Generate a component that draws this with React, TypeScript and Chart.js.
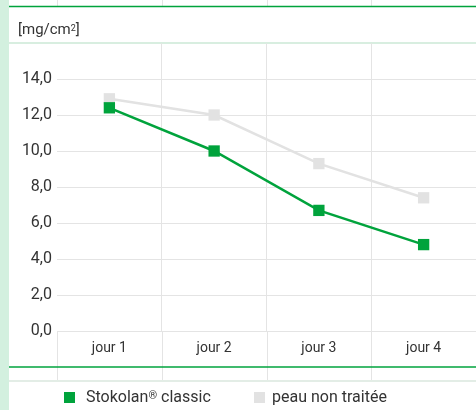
import React, { useEffect, useRef } from "react";
import { Chart, registerables } from "chart.js";

Chart.register(...registerables);

const categories = ["jour 1", "jour 2", "jour 3", "jour 4"];
const stokolanValues = [12.4, 10.0, 6.7, 4.8];
const untreatedValues = [12.9, 12.0, 9.3, 7.4];
const seriesNames = ["Stokolan® classic", "peau non traitée"];
const yTicks = [0, 2, 4, 6, 8, 10, 12, 14];

const GREEN = "#00a33c";
const GREY = "#e2e2e2";
const GRID = "#e4e4e4";
const TEXT = "#333333";
const FONT = "Roboto, 'DejaVu Sans', sans-serif";

const decorPlugin = {
  id: "decor",
  beforeDraw(chart: any) {
    const ctx = chart.ctx;
    const xs = chart.scales.x;
    const area = chart.chartArea;
    const n = xs.ticks.length;
    const px: number[] = [];
    for (let i = 0; i < n; i++) px.push(xs.getPixelForTick(i));
    const bounds: number[] = [xs.left];
    for (let i = 1; i < n; i++) bounds.push((px[i - 1] + px[i]) / 2);
    ctx.save();
    ctx.strokeStyle = GRID;
    ctx.lineWidth = 1;
    bounds.forEach((b) => {
      const x = Math.round(b) + 0.5;
      ctx.beginPath();
      ctx.moveTo(x, area.bottom);
      ctx.lineTo(x, 381);
      ctx.moveTo(x, 0);
      ctx.lineTo(x, 6);
      ctx.stroke();
    });
    const hline = (y: number, color: string, w: number) => {
      ctx.strokeStyle = color;
      ctx.lineWidth = w;
      ctx.beginPath();
      ctx.moveTo(9, y);
      ctx.lineTo(chart.width, y);
      ctx.stroke();
    };
    hline(6.5, GREEN, 1.5);
    hline(area.top, "#d8eee0", 2);
    hline(367, GREEN, 1.5);
    hline(381, "#e3ede6", 2);
    ctx.restore();
  },
};

export default function App() {
  const canvasRef = useRef<HTMLCanvasElement | null>(null);

  useEffect(() => {
    const canvas = canvasRef.current;
    if (!canvas) return;
    const chart = new Chart(canvas, {
      type: "line",
      data: {
        labels: categories,
        datasets: [
          {
            label: seriesNames[0],
            data: stokolanValues,
            borderColor: GREEN,
            backgroundColor: GREEN,
            borderWidth: 2.5,
            pointStyle: "rect",
            pointRadius: 8,
            pointBorderWidth: 0,
            pointBackgroundColor: GREEN,
            tension: 0,
          },
          {
            label: seriesNames[1],
            data: untreatedValues,
            borderColor: GREY,
            backgroundColor: GREY,
            borderWidth: 2.5,
            pointStyle: "rect",
            pointRadius: 8,
            pointBorderWidth: 0,
            pointBackgroundColor: GREY,
            tension: 0,
          },
        ],
      },
      options: {
        animation: false,
        responsive: false,
        maintainAspectRatio: false,
        layout: { autoPadding: false, padding: { left: 0, right: 0, top: 43, bottom: 0 } },
        plugins: {
          legend: { display: false },
          tooltip: { enabled: false },
        },
        scales: {
          x: {
            type: "category",
            offset: true,
            grid: {
              offset: true,
              drawTicks: false,
              color: (c: any) =>
                typeof c.index === "number" && c.index >= 1 && c.index < categories.length
                  ? GRID
                  : "rgba(0,0,0,0)",
            },
            border: { display: true, color: GRID },
            ticks: {
              color: TEXT,
              font: { family: FONT, size: 14 },
              padding: 9,
              maxRotation: 0,
            },
            afterFit: (scale: any) => {
              scale.height = 79;
              scale.paddingLeft = 0;
              scale.paddingRight = 0;
            },
          },
          y: {
            min: 0,
            max: 16,
            afterBuildTicks: (scale: any) => {
              scale.ticks = [...yTicks, 16].map((v) => ({ value: v }));
            },
            grid: {
              drawTicks: false,
              color: (c: any) => (c.tick && c.tick.value === 16 ? "rgba(0,0,0,0)" : GRID),
            },
            border: { display: false },
            ticks: {
              color: TEXT,
              font: { family: FONT, size: 16 },
              padding: 5,
              callback: (v: any) => (Number(v) === 16 ? "" : Number(v).toFixed(1).replace(".", ",")),
            },
            afterFit: (scale: any) => {
              scale.width = 57;
            },
          },
        },
      },
      plugins: [decorPlugin],
    });
    return () => chart.destroy();
  }, []);

  const legendItems = [
    { name: seriesNames[0], color: GREEN, boxLeft: 64, textLeft: 86 },
    { name: seriesNames[1], color: GREY, boxLeft: 254, textLeft: 272 },
  ];

  return (
    <div
      style={{
        position: "absolute",
        left: 0,
        top: 0,
        width: 476,
        height: 410,
        overflow: "hidden",
        background: "#ffffff",
        fontFamily: FONT,
        color: TEXT,
      }}
    >
      <div style={{ position: "absolute", left: 0, top: 0, width: 9, height: 410, background: "#d3f0df" }} />
      <canvas ref={canvasRef} width={476} height={410} style={{ position: "absolute", left: 0, top: 0 }} />
      <div style={{ position: "absolute", left: 18, top: 19, fontSize: 15, lineHeight: "20px", whiteSpace: "nowrap" }}>
        [mg/cm<sup style={{ fontSize: 9, verticalAlign: "top", position: "relative", top: -1 }}>2</sup>]
      </div>
      {legendItems.map((it) => (
        <React.Fragment key={it.name}>
          <div
            style={{ position: "absolute", left: it.boxLeft, top: 392, width: 11, height: 11, background: it.color }}
          />
          <div style={{ position: "absolute", left: it.textLeft, top: 387, fontSize: 16, lineHeight: "20px", whiteSpace: "nowrap" }}>
            {it.name.includes("®") ? (
              <>
                {it.name.split("®")[0]}
                <span style={{ fontSize: 11, verticalAlign: "top", position: "relative", top: -1 }}>®</span>
                {it.name.split("®")[1]}
              </>
            ) : (
              it.name
            )}
          </div>
        </React.Fragment>
      ))}
    </div>
  );
}
